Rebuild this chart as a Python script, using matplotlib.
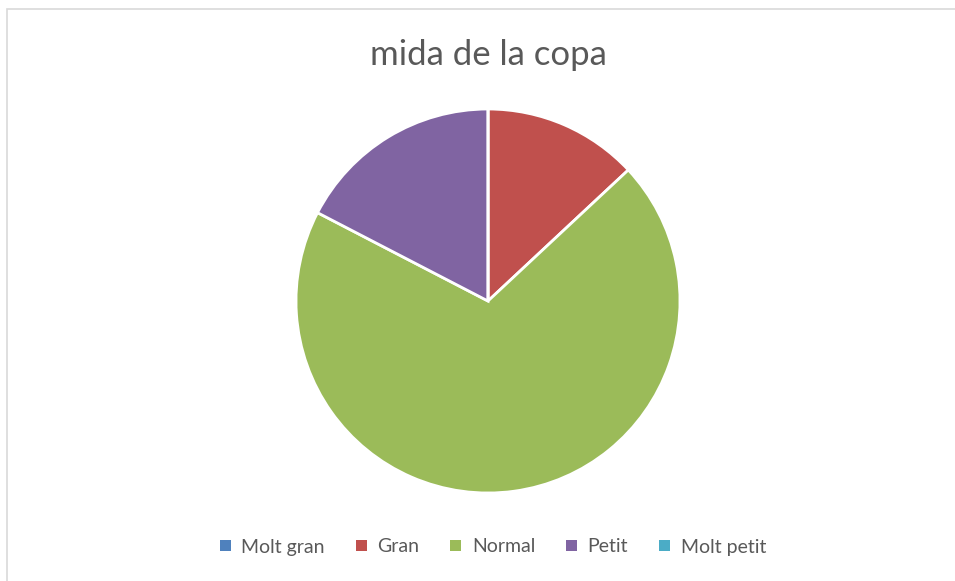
import matplotlib
matplotlib.use("Agg")
import matplotlib.pyplot as plt
from matplotlib.patches import Rectangle, Patch

title = "mida de la copa"
categories = ["Molt gran", "Gran", "Normal", "Petit", "Molt petit"]
values = [0, 3, 16, 4, 0]
colors = ["#4F81BD", "#C0504D", "#9BBB59", "#8064A2", "#4BACC6"]

plt.rcParams['font.family'] = ['Lato', 'DejaVu Sans']

W, H = 955, 581
fig = plt.figure(figsize=(W / 100, H / 100), dpi=100)
fig.patch.set_facecolor("white")

# chart border
fig.add_artist(Rectangle((7 / W, -0.05), 1.1, 1 - 9 / H + 0.05, transform=fig.transFigure,
                         fill=False, edgecolor="#D9D9D9", linewidth=1.2))

cx, cy, r = 488, 301, 192
ax = fig.add_axes([(cx - r) / W, (H - cy - r) / H, 2 * r / W, 2 * r / H])
ax.pie(values, colors=colors, startangle=90, counterclock=False, radius=1,
       wedgeprops=dict(edgecolor="white", linewidth=2))
ax.set_xlim(-1, 1)
ax.set_ylim(-1, 1)
ax.set_aspect("equal")
ax.axis("off")

fig.text(cx / W, 1 - 55 / H, title, ha="center", va="center", fontsize=25, color="#595959")

handles = [Patch(facecolor=c, edgecolor="none") for c in colors]
fig.legend(handles, categories, loc="center", bbox_to_anchor=(493 / W, 1 - 547 / H), ncol=5,
           frameon=False, fontsize=14, labelcolor="#595959", handlelength=0.55, handleheight=0.55,
           handletextpad=0.55, columnspacing=1.6)

fig.savefig("out.png", dpi=100)
